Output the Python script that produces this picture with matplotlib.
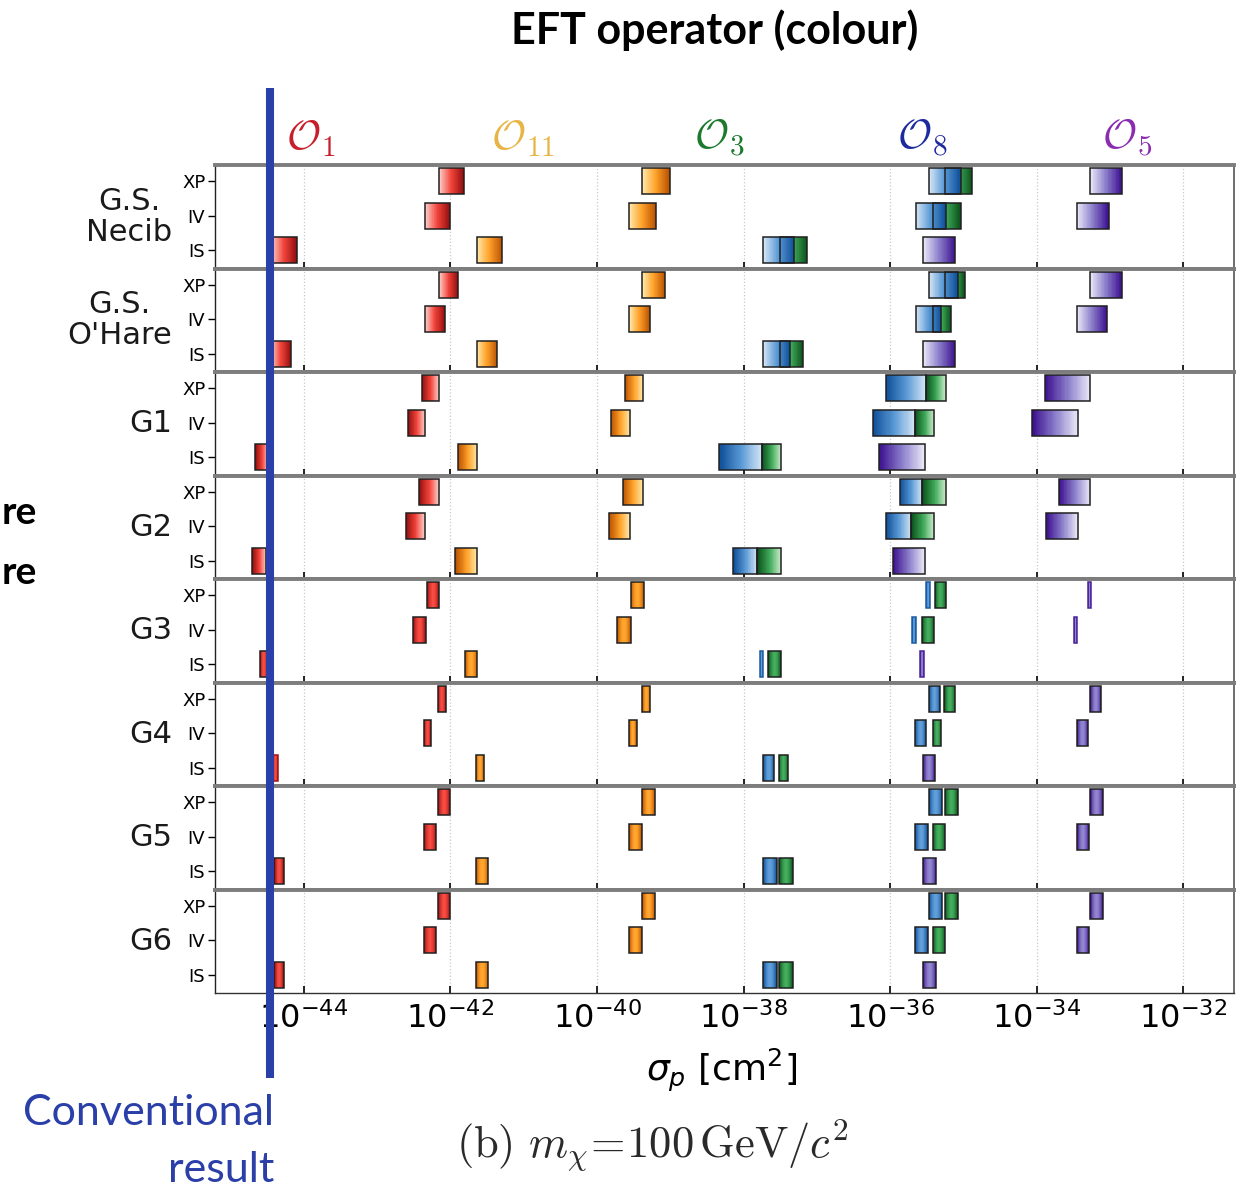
import numpy as np
import matplotlib
matplotlib.use("Agg")
import matplotlib.pyplot as plt
from matplotlib.colors import LinearSegmentedColormap
from matplotlib.patches import Rectangle
from matplotlib.ticker import FixedLocator, NullLocator, LogFormatterSciNotation
import matplotlib.transforms as mtransforms

# Halo models (panels) and coupling types (rows inside each panel)
groups = ["G.S.\nNecib", "G.S.\nO'Hare", "G1", "G2", "G3", "G4", "G5", "G6"]
couplings = ["XP", "IV", "IS"]
tick_exponents = [-44, -42, -40, -38, -36, -34, -32]

# log10(sigma_p / cm^2) ranges, one [XP, IV, IS] triple per halo model
o1_lo = [[-42.16, -42.35, -44.45], [-42.16, -42.35, -44.45], [-42.39, -42.58, -44.66], [-42.43, -42.61, -44.70],
         [-42.32, -42.51, -44.60], [-42.17, -42.36, -44.42], [-42.17, -42.36, -44.40], [-42.17, -42.36, -44.40]]
o1_hi = [[-41.81, -42.00, -44.09], [-41.89, -42.07, -44.17], [-42.15, -42.34, -44.48], [-42.15, -42.34, -44.51],
         [-42.15, -42.33, -44.49], [-42.06, -42.26, -44.35], [-42.00, -42.19, -44.27], [-42.00, -42.19, -44.27]]

o11_lo = [[-39.38, -39.56, -41.64], [-39.38, -39.56, -41.64], [-39.62, -39.81, -41.89], [-39.65, -39.83, -41.93],
          [-39.54, -39.72, -41.80], [-39.38, -39.56, -41.65], [-39.38, -39.56, -41.65], [-39.38, -39.56, -41.65]]
o11_hi = [[-39.01, -39.20, -41.29], [-39.07, -39.28, -41.36], [-39.37, -39.55, -41.63], [-39.37, -39.55, -41.63],
          [-39.36, -39.54, -41.63], [-39.27, -39.46, -41.54], [-39.21, -39.39, -41.48], [-39.21, -39.39, -41.48]]

o8_lo = [[-35.47, -35.65, -37.73], [-35.47, -35.65, -37.73], [-36.06, -36.24, -38.33], [-35.87, -36.06, -38.14],
         [-35.51, -35.70, -37.78], [-35.47, -35.66, -37.73], [-35.47, -35.66, -37.73], [-35.47, -35.66, -37.73]]
o8_hi = [[-35.04, -35.24, -37.31], [-35.08, -35.30, -37.36], [-35.51, -35.66, -37.75], [-35.56, -35.71, -37.81],
         [-35.45, -35.65, -37.73], [-35.32, -35.51, -37.58], [-35.29, -35.49, -37.55], [-35.29, -35.49, -37.55]]

o3_lo = [[-35.25, -35.42, -37.50], [-35.25, -35.42, -37.50], [-35.51, -35.66, -37.75], [-35.56, -35.71, -37.81],
         [-35.39, -35.56, -37.66], [-35.26, -35.42, -37.52], [-35.25, -35.42, -37.51], [-35.25, -35.42, -37.51]]
o3_hi = [[-34.88, -35.04, -37.13], [-34.98, -35.17, -37.19], [-35.24, -35.40, -37.49], [-35.24, -35.40, -37.49],
         [-35.24, -35.40, -37.49], [-35.11, -35.30, -37.39], [-35.08, -35.25, -37.33], [-35.08, -35.25, -37.33]]

o5_lo = [[-33.27, -33.45, -35.55], [-33.27, -33.45, -35.55], [-33.89, -34.06, -36.15], [-33.70, -33.87, -35.96],
         [-33.30, -33.49, -35.59], [-33.27, -33.45, -35.55], [-33.27, -33.45, -35.55], [-33.27, -33.45, -35.55]]
o5_hi = [[-32.84, -33.02, -35.11], [-32.84, -33.04, -35.11], [-33.27, -33.44, -35.53], [-33.27, -33.44, -35.53],
         [-33.26, -33.45, -35.54], [-33.12, -33.30, -35.39], [-33.10, -33.29, -35.37], [-33.10, -33.29, -35.37]]

# standard spin-independent result
conventional_sigma = 3.5e-45

# per-operator colour ramps (light -> dark)
cmaps = {
    "O1": LinearSegmentedColormap.from_list("o1", ["#fde3de", "#f2453c", "#8e0b0b"]),
    "O11": LinearSegmentedColormap.from_list("o11", ["#fff0b8", "#ffa22a", "#b85000"]),
    "O8": LinearSegmentedColormap.from_list("o8", ["#e2edf8", "#5a9ad6", "#0c4c96"]),
    "O3": LinearSegmentedColormap.from_list("o3", ["#d8f2d6", "#3ea858", "#0a4f1a"]),
    "O5": LinearSegmentedColormap.from_list("o5", ["#f4f2fb", "#8c80cc", "#3a0c8c"]),
}
shading = ["rise", "rise", "fall", "fall", "tube", "tube", "tube", "tube"]
bar_h = 0.76


def ramp(style, n):
    t = np.linspace(0, 1, n)
    if style == "rise":
        return 0.05 + 0.93 * t
    if style == "fall":
        return 0.98 - 0.93 * t
    return 0.97 - 0.5 * np.sin(np.pi * t)


def gradient_bar(ax, lo, hi, y, cmap, style, fill=True, edge=True):
    n = 40
    if fill:
        xe = np.logspace(lo, hi, n + 1)
        ye = [y - bar_h / 2, y + bar_h / 2]
        ax.pcolormesh(xe, ye, ramp(style, n)[None, :], cmap=cmap, vmin=0, vmax=1,
                      shading="flat", zorder=3, antialiased=False, linewidth=0)
    if edge:
        thin = (hi - lo) < 0.08
        ec = cmap(0.9) if thin else "#202020"
        ax.add_patch(Rectangle((10 ** lo, y - bar_h / 2), 10 ** hi - 10 ** lo, bar_h,
                               fill=False, ec=ec, lw=1.1, zorder=4))


W, H = 1253, 1191
fig = plt.figure(figsize=(W / 100, H / 100), dpi=100)
fig.patch.set_facecolor("white")
gs = fig.add_gridspec(len(groups), 1, left=215 / W, right=1234 / W,
                      top=1 - 165 / H, bottom=1 - 993 / H, hspace=0)
axes = [fig.add_subplot(gs[i, 0]) for i in range(len(groups))]

xmin, xmax = 10 ** -45.21, 10 ** -31.31
for i, ax in enumerate(axes):
    ax.set_xscale("log")
    ax.set_xlim(xmin, xmax)
    ax.set_ylim(-0.53, 2.47)
    ax.xaxis.set_major_locator(FixedLocator([10.0 ** e for e in tick_exponents]))
    ax.xaxis.set_minor_locator(NullLocator())
    ax.xaxis.set_major_formatter(LogFormatterSciNotation(base=10))
    ax.grid(axis="x", color="#c8c8c8", ls=":", lw=0.9, zorder=0)
    ax.tick_params(axis="x", direction="in", length=5, width=1.2, color="black",
                   labelbottom=(i == len(groups) - 1), labelsize=23, pad=7)
    ax.set_yticks([2, 1, 0])
    ax.set_yticklabels(couplings)
    ax.tick_params(axis="y", direction="out", length=5, width=1, labelsize=13, pad=2)
    for side in ("top", "bottom"):
        ax.spines[side].set_color("#7d7d7d")
        ax.spines[side].set_linewidth(2.8)
    if i == len(groups) - 1:
        ax.spines["bottom"].set_color("#333333")
        ax.spines["bottom"].set_linewidth(1.0)
    ax.spines["left"].set_color("#222222")
    ax.spines["left"].set_linewidth(1.0)
    ax.spines["right"].set_color("#555555")
    ax.spines["right"].set_linewidth(1.2)

    style = shading[i]
    for j in range(3):
        y = 2 - j
        gradient_bar(ax, o1_lo[i][j], o1_hi[i][j], y, cmaps["O1"], style)
        gradient_bar(ax, o11_lo[i][j], o11_hi[i][j], y, cmaps["O11"], style)
        # O3 drawn first, O8 over it, then O3 outline on top
        gradient_bar(ax, o3_lo[i][j], o3_hi[i][j], y, cmaps["O3"], style, edge=False)
        gradient_bar(ax, o8_lo[i][j], o8_hi[i][j], y, cmaps["O8"], style)
        gradient_bar(ax, o3_lo[i][j], o3_hi[i][j], y, cmaps["O3"], style, fill=False)
        gradient_bar(ax, o5_lo[i][j], o5_hi[i][j], y, cmaps["O5"], style)

    # halo model name to the left of the coupling ticks
    ax.text(172 / W, 0.5, groups[i], transform=mtransforms.blended_transform_factory(fig.transFigure, ax.transAxes),
            ha="right", va="center", multialignment="center", fontsize=22, color="#1a1a1a",
            linespacing=1.1)

# operator column headers
op_labels = [(r"$\mathcal{O}_{\mathsf{1}}$", 311, "#c61f2b"),
             (r"$\mathcal{O}_{\mathsf{11}}$", 523, "#e7b545"),
             (r"$\mathcal{O}_{\mathsf{3}}$", 719, "#1c7a2e"),
             (r"$\mathcal{O}_{\mathsf{8}}$", 922, "#1d2a9e"),
             (r"$\mathcal{O}_{\mathsf{5}}$", 1127, "#8a2db0")]
for txt, xp, col in op_labels:
    fig.text(xp / W, 1 - 138 / H, txt, ha="center", va="center", fontsize=30,
             color=col, math_fontfamily="cm")

fig.text(715 / W, 1 - 30 / H, "EFT operator (colour)", ha="center", va="center",
         fontsize=31, fontweight="bold", family="Lato")
fig.text(2 / W, 1 - 512 / H, "re", ha="left", va="center", fontsize=28,
         fontweight="bold", family="Lato")
fig.text(2 / W, 1 - 572 / H, "re", ha="left", va="center", fontsize=28,
         fontweight="bold", family="Lato")

# conventional result marker spanning the whole panel stack
blend = mtransforms.blended_transform_factory(axes[-1].transData, fig.transFigure)
axes[-1].plot([conventional_sigma, conventional_sigma], [1 - 88 / H, 1 - 1078 / H],
              transform=blend, color="#2b3fa8", lw=5.8, solid_capstyle="butt",
              clip_on=False, zorder=10)
fig.text(274 / W, 1 - 1113 / H, "Conventional", ha="right", va="center",
         fontsize=31, color="#2b3fa8", family="Lato")
fig.text(274 / W, 1 - 1170 / H, "result", ha="right", va="center",
         fontsize=31, color="#2b3fa8", family="Lato")

fig.text(722 / W, 1 - 1070 / H, r"$\sigma_p$ [cm$^2$]", ha="center", va="center", fontsize=26)
fig.text(652 / W, 1 - 1145 / H, r"$\mathrm{(b)}\ m_{\chi}\!=\!100\,\mathrm{GeV}/c^{2}$",
         ha="center", va="center", fontsize=32, math_fontfamily="cm", color="#2a2a2a")

fig.savefig("out.png", dpi=100, facecolor="white")
